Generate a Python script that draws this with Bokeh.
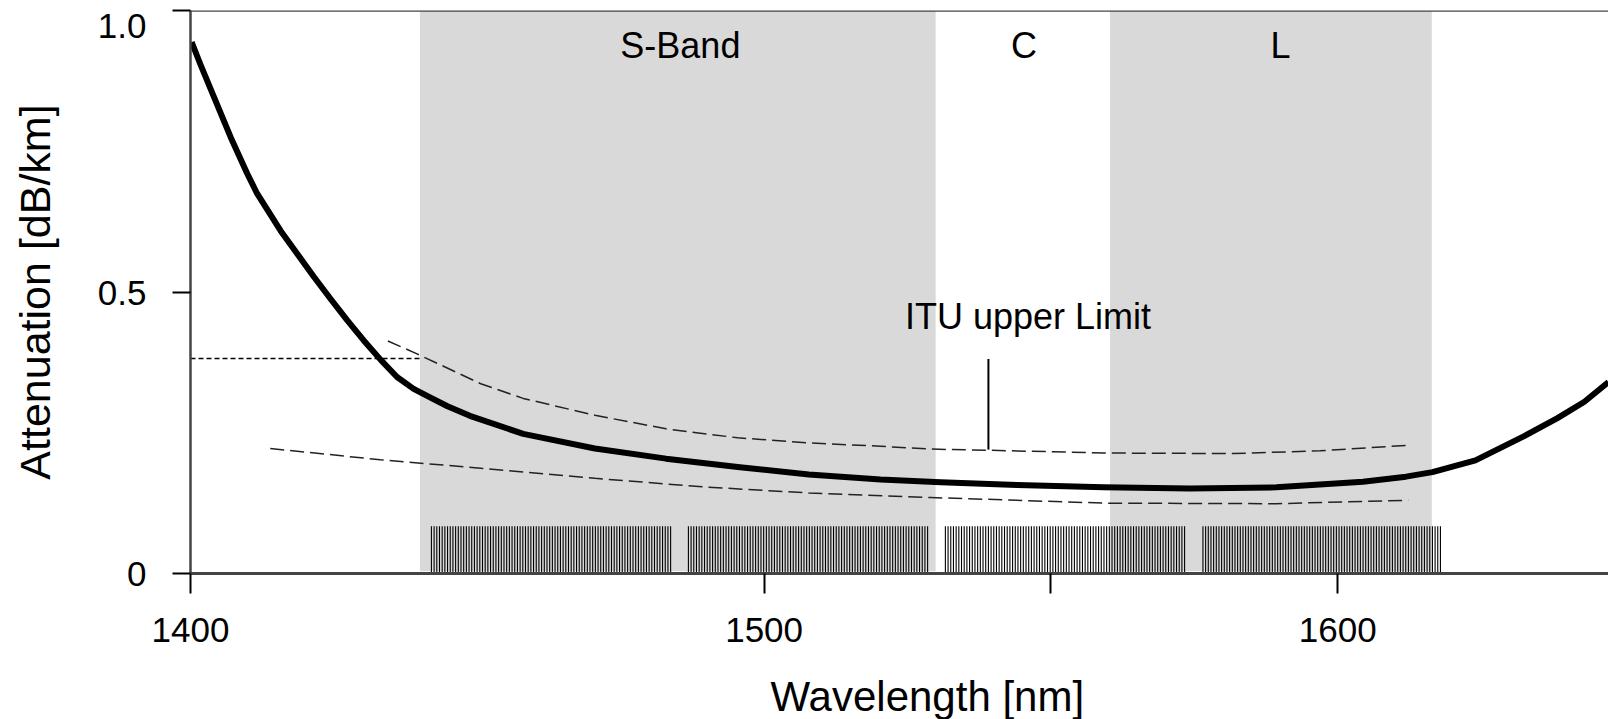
import numpy as np
from bokeh.plotting import figure
from bokeh.models import Range1d, FixedTicker, Label, Span, Title
from bokeh.embed import file_html
from bokeh.resources import INLINE

# ---------------- data ----------------
# fibre attenuation curve (thick black)
fiber_wl = [1400.2, 1401.7, 1404.1, 1407.0, 1409.9, 1411.6, 1415.7, 1418.6, 1421.5,
            1424.4, 1427.3, 1430.2, 1433.2, 1436.0, 1438.9, 1441.5, 1444.8, 1448.7,
            1458.0, 1470.5, 1482.9, 1495.4, 1507.8, 1520.3, 1530.8, 1544.1, 1559.2,
            1574.2, 1589.3, 1604.4, 1611.9, 1616.5, 1624.0, 1632.5, 1638.3, 1643.0,
            1647.2]
fiber_att = [0.944, 0.905, 0.846, 0.775, 0.710, 0.675, 0.609, 0.568, 0.527,
             0.488, 0.450, 0.414, 0.379, 0.349, 0.328, 0.314, 0.297, 0.280,
             0.248, 0.222, 0.204, 0.189, 0.176, 0.167, 0.162, 0.157, 0.153,
             0.151, 0.153, 0.163, 0.172, 0.180, 0.201, 0.244, 0.276, 0.305,
             0.340]

# ITU upper limit (upper dashed)
itu_wl = [1434.4, 1439.3, 1450.6, 1458.0, 1470.5, 1482.9, 1495.4, 1507.8, 1520.3,
          1529.0, 1539.0, 1559.2, 1581.8, 1596.9, 1612.7]
itu_att = [0.413, 0.391, 0.337, 0.311, 0.281, 0.257, 0.241, 0.232, 0.226,
           0.221, 0.219, 0.214, 0.213, 0.218, 0.228]

# lower dashed curve
low_wl = [1413.9, 1433.1, 1451.8, 1470.5, 1489.2, 1507.8, 1529.0, 1559.2, 1589.3, 1612.3]
low_att = [0.222, 0.202, 0.186, 0.169, 0.154, 0.143, 0.135, 0.125, 0.124, 0.130]

# short dotted reference line
ref_wl = [1400.0, 1440.0]
ref_att = [0.382, 0.382]

# ITU pointer
pointer_wl = [1539.1, 1539.1]
pointer_att = [0.220, 0.381]

# shaded bands (S and L)
band_left = [1440.0, 1560.3]
band_right = [1529.9, 1616.4]

# band labels
band_label_text = ["S-Band", "C", "L"]
band_label_wl = [1485.4, 1545.3, 1590.0]

# DWDM channel comb groups
group_start = [1442.0, 1486.8, 1531.6, 1576.5]
group_end = [1483.7, 1528.5, 1573.3, 1617.9]
channels_per_group = 90
comb_height = 0.084

x_ticks = [1400, 1500, 1550, 1600]
x_tick_labels = {1400: "1400", 1500: "1500", 1550: "", 1600: "1600"}
y_ticks = [0, 0.5, 1.0]
y_tick_labels = {0: "0", 0.5: "0.5", 1: "\n1.0"}

FONT = "Liberation Sans"

# ---------------- figure ----------------
p = figure(width=1608, height=719, output_backend="svg", toolbar_location=None,
           x_range=Range1d(1400, 1647.2), y_range=Range1d(0, 1.0),
           min_border_left=190, min_border_right=0, min_border_top=10,
           min_border_bottom=146)
p.outline_line_color = None
p.xgrid.visible = False
p.ygrid.visible = False
p.background_fill_color = "white"
p.border_fill_color = "white"

# bands
p.quad(left=band_left, right=band_right, bottom=0.004, top=1.0,
       fill_color="#d9d9d9", line_color=None)

# channel comb
comb_x = np.concatenate([np.linspace(s, e, channels_per_group)
                         for s, e in zip(group_start, group_end)])
p.segment(x0=comb_x, y0=0.0, x1=comb_x, y1=comb_height,
          line_color="black", line_width=1.1)

# curves
p.line(ref_wl, ref_att, line_color="black", line_width=1.5, line_dash="5 3")
p.line(itu_wl, itu_att, line_color="#222222", line_width=1.5, line_dash="14 6")
p.line(low_wl, low_att, line_color="#222222", line_width=1.5, line_dash="14 6")
p.line(pointer_wl, pointer_att, line_color="black", line_width=2)
p.line(fiber_wl, fiber_att, line_color="black", line_width=6, line_join="round")

# top border
p.add_layout(Span(location=1.0, dimension="width", line_color="#444444", line_width=2.5))

# axes
p.xaxis.ticker = FixedTicker(ticks=x_ticks)
p.xaxis.major_label_overrides = x_tick_labels
p.yaxis.ticker = FixedTicker(ticks=y_ticks)
p.yaxis.major_label_overrides = y_tick_labels
for ax in (p.xaxis, p.yaxis):
    ax.minor_tick_line_color = None
    ax.major_tick_in = 0
    ax.major_tick_line_color = "black"
    ax.major_tick_line_width = 2
    ax.axis_line_color = "#444444"
    ax.major_label_text_font = FONT
    ax.major_label_text_font_size = "35px"
    ax.major_label_text_color = "black"
p.yaxis.major_label_text_line_height = 0.13
p.xaxis.axis_line_width = 3
p.yaxis.axis_line_width = 2.5
p.xaxis.major_tick_out = 20
p.yaxis.major_tick_out = 18
p.xaxis.major_label_standoff = 24
p.yaxis.major_label_standoff = 26

# spacing between the x tick labels and the x title
p.xaxis.axis_label = " "
p.xaxis.axis_label_text_font_size = "10px"
p.xaxis.axis_label_standoff = 12

# y axis title
p.yaxis.axis_label = "Attenuation [dB/km]"
p.yaxis.axis_label_text_font = FONT
p.yaxis.axis_label_text_font_size = "43px"
p.yaxis.axis_label_text_font_style = "normal"
p.yaxis.axis_label_text_color = "black"
p.yaxis.axis_label_standoff = 36

# x axis title (offset to the right, as in the reference)
p.add_layout(Title(text="Wavelength [nm]", align="left", offset=580, standoff=0,
                   text_font=FONT, text_font_size="42px", text_font_style="normal",
                   text_color="black"), "below")

# in-plot texts
for t, xw in zip(band_label_text, band_label_wl):
    p.add_layout(Label(x=xw, y=0.9385, text=t, text_align="center",
                       text_baseline="alphabetic", text_font=FONT,
                       text_font_size="36px", text_color="black"))
p.add_layout(Label(x=1546.0, y=0.457, text="ITU upper Limit", text_align="center",
                   text_baseline="alphabetic", text_font=FONT, text_font_size="36px",
                   text_color="black"))

open("out.html", "w").write(file_html(p, INLINE))
